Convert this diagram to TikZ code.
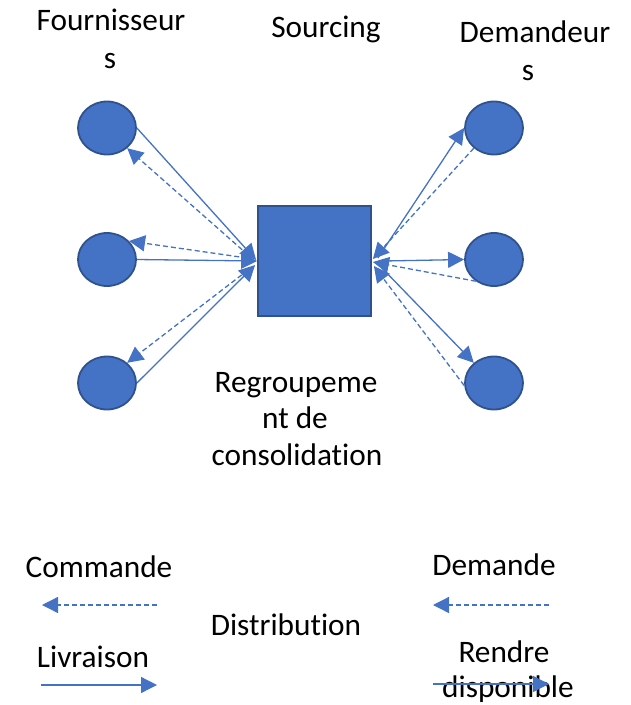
\documentclass[tikz,border=0pt]{standalone}
\usepackage{fontspec}
\setmainfont[Ligatures=NoCommon]{Carlito}
\usetikzlibrary{shapes.geometric,arrows.meta,calc}
\definecolor{bfill}{HTML}{4472C4}
\definecolor{bdraw}{HTML}{2F528F}
\begin{document}
\begin{tikzpicture}[x=1pt,y=-1pt,
  every node/.style={font=\fontsize{31.3}{37}\selectfont},
  txt/.style={anchor=base,inner sep=0pt},
  actor/.style={ellipse,fill=bfill,draw=bdraw,line width=1.8pt,minimum width=58pt,minimum height=53pt,inner sep=0pt},
  hub/.style={rectangle,fill=bfill,draw=bdraw,line width=1.8pt,minimum width=113pt,minimum height=110pt,inner sep=0pt},
  flow/.style={draw=bfill,line width=1.3pt,-{Triangle[length=16pt,width=16pt]}},
  order/.style={flow,dash pattern=on 5pt off 3pt}]
\useasboundingbox (0,0) rectangle (631,705);
% nodes
\node[hub] (sq) at (314.5,261) {};
\node[actor] (L1) at (107,128) {};
\node[actor] (L2) at (107,259.5) {};
\node[actor] (L3) at (107,383) {};
\node[actor] (R1) at (494,128) {};
\node[actor] (R2) at (494,259.5) {};
\node[actor] (R3) at (494,383) {};
% texts
\node[txt] (t1) at (111,30) {Fournisseur};
\node[txt] (t1b) at (110,68) {s};
\node[txt] (t2) at (326,37) {Sourcing};
\node[txt] (t3) at (535,42) {Demandeur};
\node[txt] (t3b) at (528,80) {s};
\node[txt] (t4) at (296,392) {Regroupeme};
\node[txt] (t4b) at (295,428) {nt de};
\node[txt] (t4c) at (297,465) {consolidation};
\node[txt] (t5) at (99,577) {Commande};
\node[txt] (t6) at (93,667) {Livraison};
\node[txt] (t7) at (286,635) {Distribution};
\node[txt] (t8) at (494,575) {Demande};
\node[txt] (t9) at (504,662) {Rendre};
\node[txt] (t9b) at (508,697) {disponible};
% left connectors
\draw[flow] (L1.east) -- ($(sq.west)+(-1,-1)$);
\draw[flow] (L2.east) -- (sq.west);
\draw[flow] (L3.east) -- ($(sq.west)+(-2,4)$);
\draw[order] ($(sq.west)+(-9,-6)$) -- (L1.-45);
\draw[order] ($(sq.west)+(-10,-3)$) -- (L2.40);
\draw[order] ($(sq.west)+(-9,9)$) -- (L3.45);
% right connectors
\draw[flow] ($(sq.east)+(6,-3)$) -- (R1.west);
\draw[flow] ($(sq.east)+(12,0)$) -- (R2.west);
\draw[flow] ($(sq.east)+(10,7)$) -- (R3.135);
\draw[order] (R1.-135) -- ($(sq.east)+(1,-2)$);
\draw[order] (R2.-130) -- ($(sq.east)+(1,1)$);
\draw[order] (R3.185) -- ($(sq.east)+(2,5)$);
% legend
\coordinate (c1s) at (157,605);
\coordinate (c1e) at (42,605);
\coordinate (c2s) at (41,685);
\coordinate (c2e) at (157,685);
\coordinate (c3s) at (549,605);
\coordinate (c3e) at (433,605);
\coordinate (c4s) at (433,684);
\coordinate (c4e) at (549,684);
\draw[order] (c1s) -- (c1e);
\draw[flow] (c2s) -- (c2e);
\draw[order] (c3s) -- (c3e);
\draw[flow] (c4s) -- (c4e);
\end{tikzpicture}
\end{document}
